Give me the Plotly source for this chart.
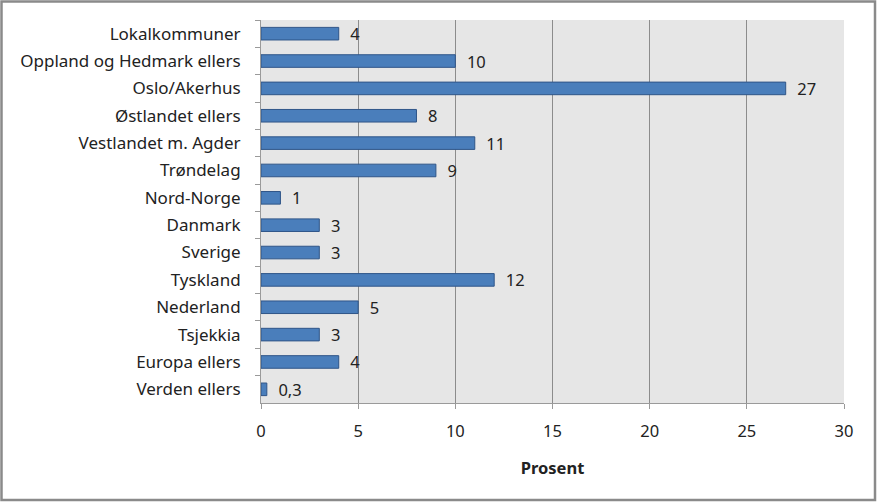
import plotly.graph_objects as go

# Data
regions = ['Lokalkommuner', 'Oppland og Hedmark ellers', 'Oslo/Akerhus', 'Østlandet ellers',
           'Vestlandet m. Agder', 'Trøndelag', 'Nord-Norge', 'Danmark', 'Sverige',
           'Tyskland', 'Nederland', 'Tsjekkia', 'Europa ellers', 'Verden ellers']
values = [4, 10, 27, 8, 11, 9, 1, 3, 3, 12, 5, 3, 4, 0.3]
value_labels = ['4', '10', '27', '8', '11', '9', '1', '3', '3', '12', '5', '3', '4', '0,3']
x_ticks = [0, 5, 10, 15, 20, 25, 30]

W, H = 878, 503
L, R, T, B = 261, 34, 20, 100
pw, ph = W - L - R, H - T - B

font = dict(family='Noto Sans, Open Sans, sans-serif', size=17, color='#222222')

fig = go.Figure()
fig.add_trace(go.Bar(
    y=regions, x=values, orientation='h',
    text=['  ' + t for t in value_labels], textposition='outside',
    cliponaxis=False, constraintext='none',
    textfont=dict(family=font['family'], size=16.5, color='#222222'),
    marker=dict(color='#4a7ebb', line=dict(color='#2f5588', width=1)),
    width=0.46,
))

fig.update_layout(
    width=W, height=H,
    margin=dict(l=L, r=R, t=T, b=B),
    paper_bgcolor='white', plot_bgcolor='#e6e6e6',
    font=font, showlegend=False,
    shapes=[dict(type='rect', xref='paper', yref='paper',
                 x0=-(L - 1.5) / pw, x1=1 + (R - 3) / pw,
                 y0=-(B - 3) / ph, y1=1 + (T - 1.5) / ph,
                 line=dict(color='#8a8a8a', width=2.5))],
)
fig.update_xaxes(
    range=[0, 30], tickvals=x_ticks, showgrid=True, gridcolor='#8c8c8c', gridwidth=1,
    zeroline=False, showline=True, linecolor='#9a9a9a', linewidth=1,
    ticks='outside', ticklen=5, tickcolor='#9a9a9a', ticklabelstandoff=8,
    tickfont=dict(size=16.5),
    title=dict(text='<b>Prosent</b>', font=dict(size=16.5), standoff=21),
)
fig.update_yaxes(
    categoryorder='array', categoryarray=regions, autorange='reversed',
    showline=True, linecolor='#9a9a9a', linewidth=1,
    ticks='outside', tickson='boundaries', ticklen=5, tickcolor='#9a9a9a',
    showgrid=False, ticklabelstandoff=16,
)

fig.write_html('out.html', config={'displayModeBar': False},
               post_script="document.body.style.margin='0';")
